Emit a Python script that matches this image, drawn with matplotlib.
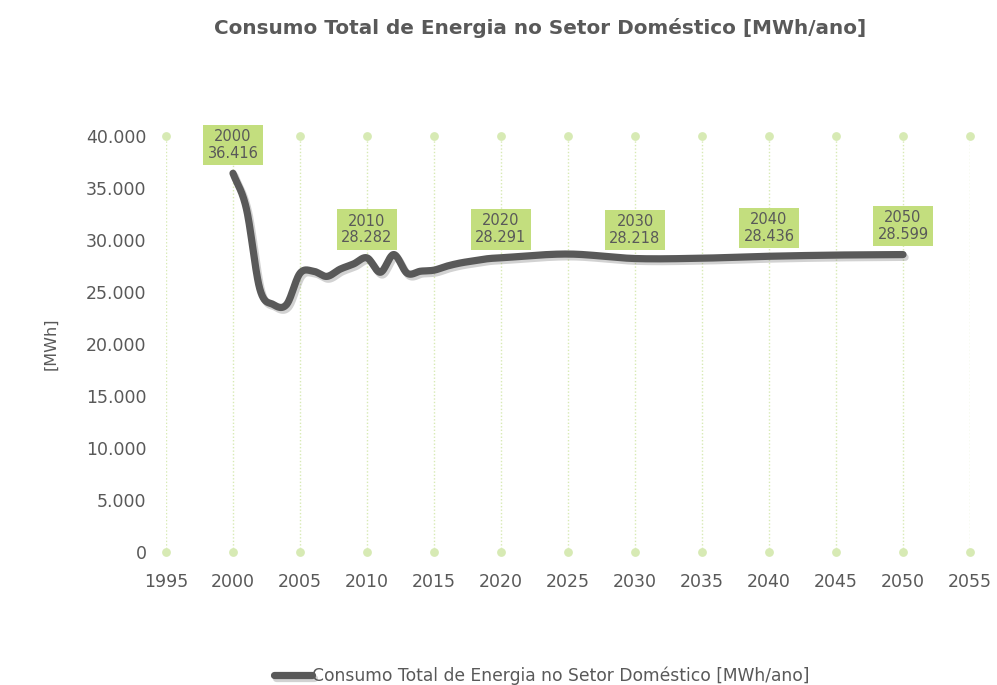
import numpy as np
import matplotlib.pyplot as plt
import matplotlib.patheffects as pe
from matplotlib.ticker import FuncFormatter

plt.rcParams['font.family'] = ['DejaVu Sans']

# data
years = [2000, 2001, 2002, 2003, 2004, 2005, 2006, 2007, 2008, 2009, 2010,
         2011, 2012, 2013, 2014, 2015, 2016, 2017, 2018, 2019, 2020,
         2025, 2030, 2035, 2040, 2045, 2050]
consumo = [36416, 33000, 25300, 23800, 23800, 26800, 27000, 26500, 27200, 27700, 28282,
           26900, 28600, 26800, 27000, 27100, 27500, 27800, 28000, 28200, 28291,
           28650, 28218, 28250, 28436, 28550, 28599]
label_years = [2000, 2010, 2020, 2030, 2040, 2050]
x_ticks = list(range(1995, 2056, 5))
y_ticks = list(range(0, 40001, 5000))

txt = '#595959'
green = '#C3DE7E'
grid_green = '#D7EAB4'


def smooth(xs, ys, n=24):
    # hermite spline through the points, like a smoothed line
    p = np.column_stack([xs, ys]).astype(float)
    p = np.vstack([p[0] * 2 - p[1], p, p[-1] * 2 - p[-2]])
    out = []
    for i in range(1, len(p) - 2):
        p0, p1, p2, p3 = p[i - 1], p[i], p[i + 1], p[i + 2]
        h = p2[0] - p1[0]
        d1 = (p2 - p0) * h / (p2[0] - p0[0])
        d2 = (p3 - p1) * h / (p3[0] - p1[0])
        t = np.linspace(0, 1, n, endpoint=False)[:, None]
        h00 = 2 * t**3 - 3 * t**2 + 1
        h10 = t**3 - 2 * t**2 + t
        h01 = -2 * t**3 + 3 * t**2
        h11 = t**3 - t**2
        out.append(h00 * p1 + h10 * d1 + h01 * p2 + h11 * d2)
    out.append(p[-2][None, :])
    out = np.vstack(out)
    return out[:, 0], out[:, 1]


fig = plt.figure(figsize=(9.97, 6.85), dpi=100)
ax = fig.add_axes([166 / 997, 1 - 552 / 685, 804 / 997, 416 / 685])
ax.set_xlim(1995, 2055)
ax.set_ylim(0, 40000)

# dotted vertical grid with dots at the ends
for xv in x_ticks:
    ax.plot([xv, xv], [0, 40000], color=grid_green, lw=1, ls=(0, (1, 1.5)), zorder=1)
ax.scatter(x_ticks, [40000] * len(x_ticks), s=40, color=grid_green, clip_on=False, zorder=2, lw=0)
ax.scatter(x_ticks, [0] * len(x_ticks), s=40, color=grid_green, clip_on=False, zorder=2, lw=0)

sx, sy = smooth(years, consumo)
ax.plot(sx, sy, color='#595959', lw=5.2, solid_capstyle='round', solid_joinstyle='round', zorder=3,
        label='Consumo Total de Energia no Setor Doméstico [MWh/ano]',
        path_effects=[pe.SimpleLineShadow(offset=(1.5, -2), shadow_color='#7f7f7f', alpha=0.35),
                      pe.Normal()])

for yr in label_years:
    v = consumo[years.index(yr)]
    lab = f'{yr}\n{v:,}'.replace(',', '.')
    ax.annotate(lab, (yr, v), xytext=(0, 9), textcoords='offset points', ha='center', va='bottom',
                fontsize=10.5, color=txt, linespacing=1.15, zorder=5,
                bbox=dict(boxstyle='square,pad=0.3', fc=green, ec='none'))

ax.set_xticks(x_ticks)
ax.set_yticks(y_ticks)
ax.yaxis.set_major_formatter(FuncFormatter(lambda v, p: f'{int(v):,}'.replace(',', '.')))
ax.tick_params(length=0, labelsize=12.5, colors=txt)
ax.tick_params(axis='x', pad=15)
ax.tick_params(axis='y', pad=14)
for s in ax.spines.values():
    s.set_visible(False)

ax.set_ylabel('[MWh]', fontsize=11.5, color=txt, labelpad=20)
fig.text(540 / 997, 1 - 28 / 685, 'Consumo Total de Energia no Setor Doméstico [MWh/ano]',
         ha='center', va='center', fontsize=14.4, fontweight='bold', color=txt)

leg = fig.legend(loc='center', bbox_to_anchor=(542 / 997, 1 - 676 / 685), frameon=False,
                 fontsize=12.3, handlelength=2.2, handletextpad=0.05, labelcolor=txt)

fig.savefig('out.png', dpi=100)
